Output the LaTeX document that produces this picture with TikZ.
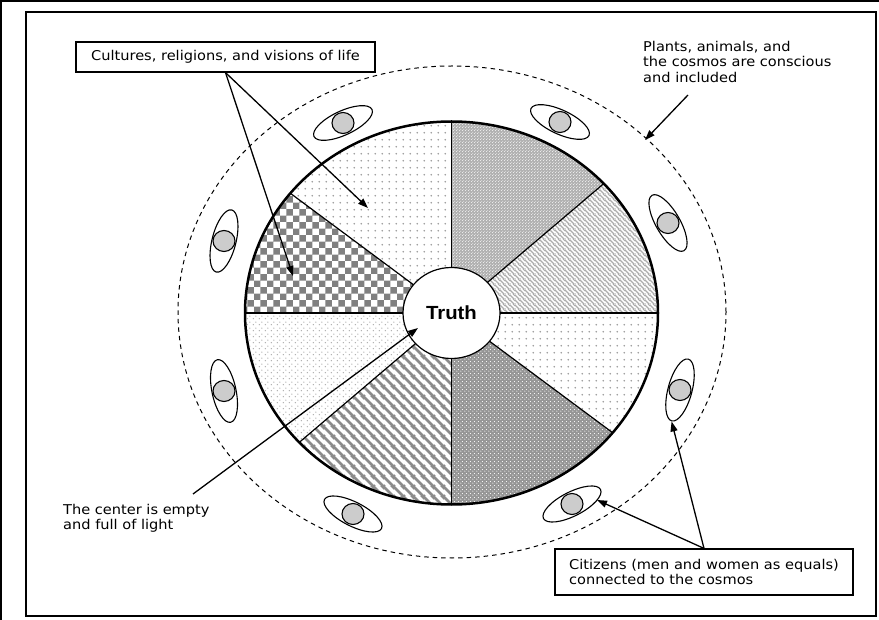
\documentclass[tikz,border=0pt]{standalone}
\usepackage{fontspec}
\setmainfont{DejaVu Sans}[FakeStretch=1.08]
\newfontfamily\truthfont{Liberation Sans}[FakeStretch=1.07]
\usetikzlibrary{shapes.geometric,arrows.meta,patterns}

\pgfdeclarepatternformonly{sparsedots}{\pgfqpoint{0pt}{0pt}}{\pgfqpoint{7.2pt}{7.2pt}}{\pgfqpoint{7.2pt}{7.2pt}}{%
  \pgfpathcircle{\pgfqpoint{3.6pt}{3.6pt}}{1pt}\pgfusepath{fill}}
\pgfdeclarepatternformonly{densedots}{\pgfqpoint{0pt}{0pt}}{\pgfqpoint{6pt}{6pt}}{\pgfqpoint{6pt}{6pt}}{%
  \pgfpathcircle{\pgfqpoint{1.5pt}{1.5pt}}{0.85pt}\pgfpathcircle{\pgfqpoint{4.5pt}{4.5pt}}{0.85pt}\pgfusepath{fill}}
\pgfdeclarepatternformonly{finedots}{\pgfqpoint{0pt}{0pt}}{\pgfqpoint{3pt}{3pt}}{\pgfqpoint{3pt}{3pt}}{%
  \pgfpathcircle{\pgfqpoint{0.75pt}{0.75pt}}{0.55pt}\pgfpathcircle{\pgfqpoint{2.25pt}{2.25pt}}{0.55pt}\pgfusepath{fill}}
\pgfdeclarepatternformonly{crossdots}{\pgfqpoint{0pt}{0pt}}{\pgfqpoint{4pt}{4pt}}{\pgfqpoint{4pt}{4pt}}{%
  \pgfpathcircle{\pgfqpoint{1pt}{1pt}}{0.65pt}\pgfpathcircle{\pgfqpoint{3pt}{3pt}}{0.65pt}\pgfusepath{fill}}
\pgfdeclarepatternformonly{finelines}{\pgfqpoint{0pt}{0pt}}{\pgfqpoint{4.5pt}{4.5pt}}{\pgfqpoint{4.5pt}{4.5pt}}{%
  \pgfsetlinewidth{1.3pt}%
  \pgfpathmoveto{\pgfqpoint{-1pt}{1pt}}\pgfpathlineto{\pgfqpoint{1pt}{-1pt}}%
  \pgfpathmoveto{\pgfqpoint{-1pt}{5.5pt}}\pgfpathlineto{\pgfqpoint{5.5pt}{-1pt}}%
  \pgfpathmoveto{\pgfqpoint{3.5pt}{5.5pt}}\pgfpathlineto{\pgfqpoint{5.5pt}{3.5pt}}%
  \pgfusepath{stroke}}
\pgfdeclarepatternformonly{thickstripes}{\pgfqpoint{0pt}{0pt}}{\pgfqpoint{9.5pt}{9.5pt}}{\pgfqpoint{9.5pt}{9.5pt}}{%
  \pgfsetlinewidth{2.8pt}%
  \pgfpathmoveto{\pgfqpoint{-3pt}{3pt}}\pgfpathlineto{\pgfqpoint{3pt}{-3pt}}%
  \pgfpathmoveto{\pgfqpoint{-3pt}{12.5pt}}\pgfpathlineto{\pgfqpoint{12.5pt}{-3pt}}%
  \pgfpathmoveto{\pgfqpoint{6.5pt}{12.5pt}}\pgfpathlineto{\pgfqpoint{12.5pt}{6.5pt}}%
  \pgfusepath{stroke}}
\pgfdeclarepatternformonly{checker}{\pgfqpoint{0pt}{0pt}}{\pgfqpoint{13.4pt}{13.4pt}}{\pgfqpoint{13.4pt}{13.4pt}}{%
  \pgfpathrectangle{\pgfqpoint{0pt}{0pt}}{\pgfqpoint{6.7pt}{6.7pt}}%
  \pgfpathrectangle{\pgfqpoint{6.7pt}{6.7pt}}{\pgfqpoint{6.7pt}{6.7pt}}%
  \pgfusepath{fill}}

\newcommand\mysector[3]{\fill[#3] (0,0) -- (#1:1) arc[start angle=#1,end angle=#2,radius=1] -- cycle;}

\begin{document}
\begin{tikzpicture}[x=1pt,y=-1pt,
  thinline/.style={line width=1.2pt},
  arr/.style={line width=1.3pt,-{Triangle[length=10pt,width=7pt]}},
  labelbox/.style={draw,line width=1.2pt,inner sep=0pt},
  citizen/.style={ellipse,draw,line width=1.1pt,minimum width=64pt,minimum height=24pt,inner sep=0pt},
  head/.style={ellipse,draw,line width=1.1pt,fill=gray!40,minimum width=22pt,minimum height=21pt,inner sep=0pt},
  txt/.style={font=\fontsize{13.5pt}{15.5pt}\selectfont,align=left,inner sep=0pt}]
\useasboundingbox (0,0) rectangle (879,620);
\fill[white] (0,0) rectangle (879,620);
\draw[line width=2pt] (0,1) -- (879,1);
\draw[line width=2pt] (1,0) -- (1,620);
\draw[line width=1.2pt] (26,12) rectangle (876,616);

% dashed cosmos ellipse
\node[ellipse,draw,dash pattern=on 4.5pt off 4pt,line width=1pt,minimum width=548pt,minimum height=492pt,inner sep=0pt] (cosmos) at (452,312) {};

% citizens
\node[citizen,rotate=25]  (c1) at (343,123) {}; \node[head] (h1) at (c1) {};
\node[citizen,rotate=-25] (c2) at (560,122) {}; \node[head] (h2) at (c2) {};
\node[citizen,rotate=-60] (c3) at (668,223) {}; \node[head] (h3) at (c3) {};
\node[citizen,rotate=75]  (c4) at (680,390) {}; \node[head] (h4) at (c4) {};
\node[citizen,rotate=27]  (c5) at (572,504) {}; \node[head] (h5) at (c5) {};
\node[citizen,rotate=-27] (c6) at (353,514) {}; \node[head] (h6) at (c6) {};
\node[citizen,rotate=-78] (c7) at (224,391) {}; \node[head] (h7) at (c7) {};
\node[citizen,rotate=76]  (c8) at (224,241) {}; \node[head] (h8) at (c8) {};

% pie
\begin{scope}[shift={(451.5,313)},x=206.5pt,y=191.5pt]
  \mysector{90}{42.5}{preaction={fill=gray!60},pattern=finedots,pattern color=white}
  \mysector{42.5}{0}{pattern=finelines,pattern color=gray!65}
  \mysector{0}{-38.7}{pattern=sparsedots,pattern color=gray!80}
  \mysector{-38.7}{-90}{preaction={fill=gray!82},pattern=crossdots,pattern color=white}
  \mysector{-90}{-137.5}{pattern=thickstripes,pattern color=gray!90}
  \mysector{-137.5}{-180}{pattern=densedots,pattern color=gray!65}
  \mysector{180}{141.3}{pattern=checker,pattern color=gray}
  \mysector{141.3}{90}{pattern=sparsedots,pattern color=gray!80}
  \draw[thinline] (90:1) -- (-90:1);
  \draw[thinline] (0:1) -- (180:1);
  \draw[thinline] (42.5:1) -- (-137.5:1);
  \draw[thinline] (-38.7:1) -- (141.3:1);
  \draw[line width=2.5pt] (0,0) circle[radius=1];
  \node[ellipse,draw,thinline,fill=white,minimum width=97pt,minimum height=91pt,inner sep=0pt,
        font={\truthfont\bfseries\fontsize{19pt}{22pt}\selectfont}] (truth) at (0,0) {Truth};
\end{scope}

% labels
\node[labelbox,minimum width=299pt,minimum height=30pt,font=\fontsize{13.5pt}{15.5pt}\selectfont] (cult) at (225.5,57) {Cultures, religions, and visions of life};
\node[txt,anchor=north west] (plants) at (643,40.7) {Plants, animals, and\\the cosmos are conscious\\and included};
\node[txt,anchor=north west] (centertext) at (63,503.7) {The center is empty\\and full of light};
\node[labelbox,minimum width=298pt,minimum height=46pt] (citbox) at (704,572) {};
\node[txt,anchor=north west] (cittext) at (569,558.7) {Citizens (men and women as equals)\\connected to the cosmos};

% arrows
\coordinate (t1) at (368,208);
\coordinate (t2) at (293,276);
\coordinate (p0) at (688,95);
\coordinate (p1) at (645,140);
\coordinate (e0) at (193,494);
\coordinate (e1) at (418,328);
\coordinate (k1) at (597,500);
\draw[arr] (cult.south) -- (t1);
\draw[arr] (cult.south) -- (t2);
\draw[arr] (p0) -- (p1);
\draw[arr] (e0) -- (e1);
\draw[arr] (citbox.north) -- (k1);
\draw[arr] (citbox.north) -- (c4.west);
\end{tikzpicture}
\end{document}
